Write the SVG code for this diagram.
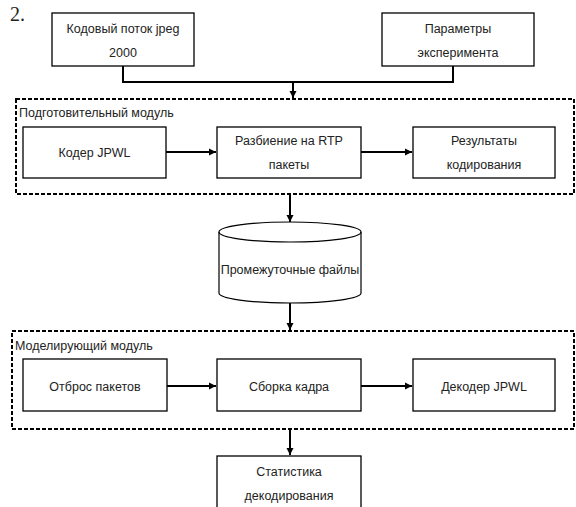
<svg xmlns="http://www.w3.org/2000/svg" width="576" height="507" viewBox="0 0 576 507">
<defs>
<marker id="ah" markerWidth="8" markerHeight="8" refX="7" refY="4" orient="auto" markerUnits="userSpaceOnUse">
<path d="M0,0.5 L7,4 L0,7.5 Z" fill="#000"/>
</marker>
</defs>
<style>
.box{fill:#fff;stroke:#000;stroke-width:1.3}
.cont{fill:none;stroke:#000;stroke-width:2;stroke-dasharray:4 2}
.t{font-family:"Liberation Sans",Arial,sans-serif;font-size:12.5px;fill:#222;text-anchor:middle}
.lbl{font-family:"Liberation Sans",Arial,sans-serif;font-size:12.5px;fill:#222}
.c{fill:none;stroke:#000;stroke-width:2}
</style>
<rect width="576" height="507" fill="#fff"/>
<text x="10" y="21" font-family="Liberation Serif,serif" font-size="20" fill="#222">2.</text>

<g id="containers">
<g id="prep">
<rect class="cont" x="16" y="99" width="558" height="95"/>
<text class="lbl" x="19" y="117">Подготовительный модуль</text>
</g>
<g id="model">
<rect class="cont" x="12" y="331" width="562" height="98"/>
<text class="lbl" x="15" y="350">Моделирующий модуль</text>
</g>
</g>

<g id="connectors">
<polyline class="c" points="123,66 123,82 453,82 453,66"/>
<line class="c" x1="293" y1="82" x2="293" y2="98" marker-end="url(#ah)"/>
<line class="c" x1="166" y1="152" x2="216" y2="152" marker-end="url(#ah)"/>
<line class="c" x1="361" y1="152" x2="412" y2="152" marker-end="url(#ah)"/>
<line class="c" x1="290" y1="194" x2="290" y2="222" marker-end="url(#ah)"/>
<line class="c" x1="290" y1="303" x2="290" y2="330" marker-end="url(#ah)"/>
<line class="c" x1="167" y1="386" x2="216" y2="386" marker-end="url(#ah)"/>
<line class="c" x1="361" y1="386" x2="412" y2="386" marker-end="url(#ah)"/>
<line class="c" x1="290" y1="429" x2="290" y2="455" marker-end="url(#ah)"/>
</g>

<g id="n-stream">
<rect class="box" x="52" y="13" width="142" height="53"/>
<text class="t" x="123" y="33">Кодовый поток jpeg</text>
<text class="t" x="123" y="57">2000</text>
</g>
<g id="n-params">
<rect class="box" x="382" y="13" width="152" height="53"/>
<text class="t" x="458" y="33">Параметры</text>
<text class="t" x="458" y="57">эксперимента</text>
</g>
<g id="n-coder">
<rect class="box" x="23" y="127" width="143" height="51"/>
<text class="t" x="94.5" y="157">Кодер JPWL</text>
</g>
<g id="n-split">
<rect class="box" x="217" y="127" width="144" height="51"/>
<text class="t" x="289" y="145">Разбиение на RTP</text>
<text class="t" x="289" y="169">пакеты</text>
</g>
<g id="n-results">
<rect class="box" x="413" y="127" width="142" height="51"/>
<text class="t" x="484" y="145">Результаты</text>
<text class="t" x="484" y="169">кодирования</text>
</g>
<g id="n-files">
<path d="M219,232 L219,293 A71,10 0 0 0 361,293 L361,232 A71,10 0 0 0 219,232 Z" fill="#fff" stroke="#000" stroke-width="1.2"/>
<path d="M219,232 A71,10 0 0 0 361,232" fill="none" stroke="#000" stroke-width="1.2"/>
<text class="t" x="290" y="274">Промежуточные файлы</text>
</g>
<g id="n-drop">
<rect class="box" x="23" y="359" width="144" height="52"/>
<text class="t" x="95" y="391">Отброс пакетов</text>
</g>
<g id="n-assemble">
<rect class="box" x="217" y="359" width="144" height="52"/>
<text class="t" x="289" y="391">Сборка кадра</text>
</g>
<g id="n-decoder">
<rect class="box" x="413" y="359" width="142" height="52"/>
<text class="t" x="484" y="391">Декодер JPWL</text>
</g>
<g id="n-stats">
<rect class="box" x="217" y="456" width="144" height="60"/>
<text class="t" x="289" y="476">Статистика</text>
<text class="t" x="289" y="500">декодирования</text>
</g>
</svg>
